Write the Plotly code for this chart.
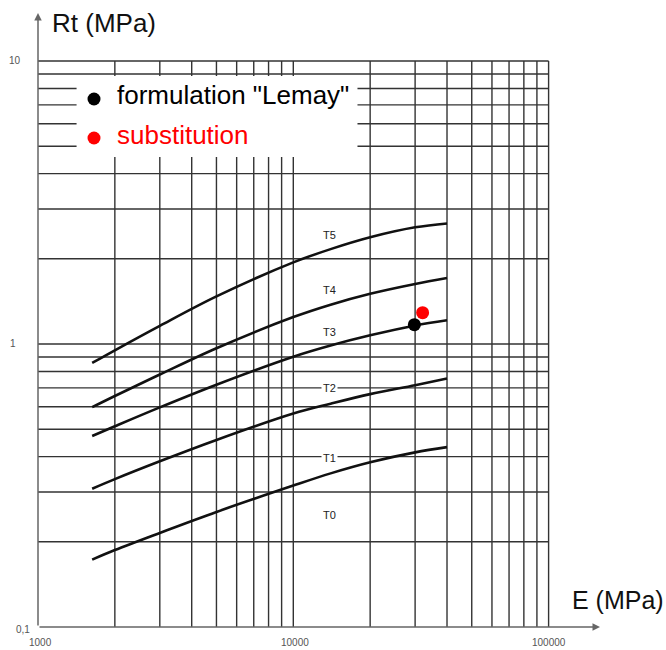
import math
import plotly.graph_objects as go

# ---------------- data ----------------
E_CURVE = [1630, 2000, 3000, 5000, 10000, 14000, 20000, 30000, 40000]
T1 = [0.173, 0.187, 0.215, 0.255, 0.316, 0.349, 0.382, 0.414, 0.432]
T2 = [0.308, 0.333, 0.385, 0.458, 0.568, 0.615, 0.665, 0.715, 0.755]
T3 = [0.473, 0.512, 0.597, 0.718, 0.902, 0.988, 1.073, 1.163, 1.214]
T4 = [0.598, 0.655, 0.780, 0.966, 1.245, 1.377, 1.505, 1.630, 1.711]
T5 = [0.857, 0.950, 1.159, 1.473, 1.943, 2.164, 2.383, 2.584, 2.667]
CURVES = {"T1": T1, "T2": T2, "T3": T3, "T4": T4, "T5": T5}

CLASS_LABELS = ["T0", "T1", "T2", "T3", "T4", "T5"]
CLASS_LABEL_E = 13800
CLASS_LABEL_RT = [0.249, 0.395, 0.700, 1.100, 1.550, 2.430]

POINT_NAMES = ["formulation \"Lemay\"", "substitution"]
POINT_E = [29800, 32100]
POINT_RT = [1.17, 1.29]
POINT_COLORS = ["#000000", "#ff0000"]

GRID_X = [2000, 3000, 4000, 5000, 6000, 7000, 8000, 9000, 10000,
          20000, 30000, 40000, 50000, 60000, 70000, 80000, 90000, 100000]
GRID_Y = [0.2, 0.3, 0.4, 0.5, 0.6, 0.7, 0.8, 0.9,
          1, 2, 3, 4, 5, 6, 7, 8, 9, 10]
X_MIN, X_MAX = 1000, 100000
Y_MIN, Y_MAX = 0.1, 10

X_TICK_VALS = [1000, 10000, 100000]
X_TICK_TEXT = ["1000", "10000", "100000"]
Y_TICK_VALS = [0.1, 1, 10]
Y_TICK_TEXT = ["0,1", "1", "10"]

X_TITLE = "E (MPa)"
Y_TITLE = "Rt (MPa)"

# legend box extent (data units)
BOX_X = [1416, 17840]
BOX_Y = [4.58, 8.85]

# ---------------- layout geometry ----------------
W, H = 666, 650
ML, MR, MT, MB = 38, 66, 13, 23
PX_PER_DEC_X = 255.3
PX_PER_DEC_Y = 283.0
plot_w = W - ML - MR
plot_h = H - MT - MB
x_range = [3, 3 + plot_w / PX_PER_DEC_X]
y_range = [-1, -1 + plot_h / PX_PER_DEC_Y]

FONT = "Liberation Sans, Arial, sans-serif"
NARROW = "Liberation Sans Narrow, Arial Narrow, Liberation Sans, sans-serif"

fig = go.Figure()

# grid
gx, gy = [], []
for v in GRID_X:
    gx += [v, v, None]
    gy += [Y_MIN, Y_MAX, None]
for v in GRID_Y:
    gx += [X_MIN, X_MAX, None]
    gy += [v, v, None]
fig.add_trace(go.Scatter(x=gx, y=gy, mode="lines",
                         line=dict(color="#333333", width=1.4),
                         hoverinfo="skip"))

# white legend box
fig.add_trace(go.Scatter(x=[BOX_X[0], BOX_X[1], BOX_X[1], BOX_X[0], BOX_X[0]],
                         y=[BOX_Y[0], BOX_Y[0], BOX_Y[1], BOX_Y[1], BOX_Y[0]],
                         mode="lines", fill="toself", fillcolor="white",
                         line=dict(width=0, color="white"), hoverinfo="skip"))

# curves
for name, vals in CURVES.items():
    fig.add_trace(go.Scatter(x=E_CURVE, y=vals, mode="lines", name=name,
                             line=dict(color="#111111", width=2.6, shape="spline",
                                       smoothing=1.0)))

# points
for i in range(len(POINT_E)):
    fig.add_trace(go.Scatter(x=[POINT_E[i]], y=[POINT_RT[i]], mode="markers",
                             name=POINT_NAMES[i],
                             marker=dict(color=POINT_COLORS[i], size=13)))

annotations = []

# class labels
for lab, rt in zip(CLASS_LABELS, CLASS_LABEL_RT):
    annotations.append(dict(x=math.log10(CLASS_LABEL_E), y=math.log10(rt),
                            xref="x", yref="y", text=lab, showarrow=False,
                            font=dict(family=NARROW, size=11, color="#222222"),
                            bgcolor="white", borderpad=1))

# legend (manual)
LEG_DOT_PX_X = 94
LEG_TEXT_PX_X = 115
LEG_DOT_PX_Y = [99, 138]
LEG_TEXT_PX_Y = [95.5, 134.5]
for i in range(len(POINT_NAMES)):
    fig.add_trace(go.Scatter(
        x=[10 ** (3 + (LEG_DOT_PX_X - ML) / PX_PER_DEC_X)],
        y=[10 ** ((344 - LEG_DOT_PX_Y[i]) / PX_PER_DEC_Y)],
        mode="markers", marker=dict(color=POINT_COLORS[i], size=13),
        hoverinfo="skip"))
    annotations.append(dict(
        xref="paper", yref="paper",
        x=(LEG_TEXT_PX_X - ML) / plot_w,
        y=(H - MB - LEG_TEXT_PX_Y[i]) / plot_h,
        xanchor="left", yanchor="middle", showarrow=False,
        text=POINT_NAMES[i],
        font=dict(family=FONT, size=26, color=POINT_COLORS[i])))

# axis titles
annotations.append(dict(xref="paper", yref="paper",
                        x=(50 - ML) / plot_w, y=(H - MB - 23) / plot_h,
                        xanchor="left", yanchor="middle", showarrow=False,
                        text=Y_TITLE, font=dict(family=FONT, size=26, color="#111111")))
annotations.append(dict(xref="paper", yref="paper",
                        x=(570 - ML) / plot_w, y=(H - MB - 600) / plot_h,
                        xanchor="left", yanchor="middle", showarrow=False,
                        text=X_TITLE, font=dict(family=FONT, size=25, color="#111111")))

# tick labels
Y_TICK_RIGHT_PX = [32, 18, 23]
Y_TICK_YSHIFT = [-2, 1, 1]
for v, t, r, ys in zip(Y_TICK_VALS, Y_TICK_TEXT, Y_TICK_RIGHT_PX, Y_TICK_YSHIFT):
    annotations.append(dict(xref="paper", yref="y", x=0, y=math.log10(v),
                            xanchor="right", yanchor="middle", xshift=r - ML,
                            yshift=ys, showarrow=False, text=t,
                            font=dict(family=FONT, size=10, color="#555555")))
X_TICK_XSHIFT = [2.5, 1.5, 0]
for v, t, xs in zip(X_TICK_VALS, X_TICK_TEXT, X_TICK_XSHIFT):
    annotations.append(dict(xref="x", yref="paper", x=math.log10(v), y=0,
                            xanchor="center", yanchor="middle", xshift=xs,
                            yshift=-15, showarrow=False, text=t,
                            font=dict(family=FONT, size=10, color="#555555")))

# axis arrows
annotations.append(dict(xref="paper", yref="paper", x=1, y=0, ax=-plot_w, ay=0,
                        text="", showarrow=True, arrowhead=2, arrowsize=1,
                        arrowwidth=1.5, arrowcolor="#666666"))
annotations.append(dict(xref="paper", yref="paper", x=0, y=1, ax=0, ay=plot_h,
                        text="", showarrow=True, arrowhead=2, arrowsize=1,
                        arrowwidth=1.5, arrowcolor="#666666"))

fig.update_layout(
    width=W, height=H,
    margin=dict(l=ML, r=MR, t=MT, b=MB, pad=0),
    paper_bgcolor="white", plot_bgcolor="white",
    showlegend=False,
    xaxis=dict(type="log", range=x_range, showgrid=False, zeroline=False,
               showticklabels=False, showline=False, ticks=""),
    yaxis=dict(type="log", range=y_range, showgrid=False, zeroline=False,
               showticklabels=False, showline=False, ticks=""),
    annotations=annotations,
)

fig.write_html("out.html",
               config={"displayModeBar": False},
               post_script="document.body.style.margin='0';document.body.style.overflow='hidden';")
